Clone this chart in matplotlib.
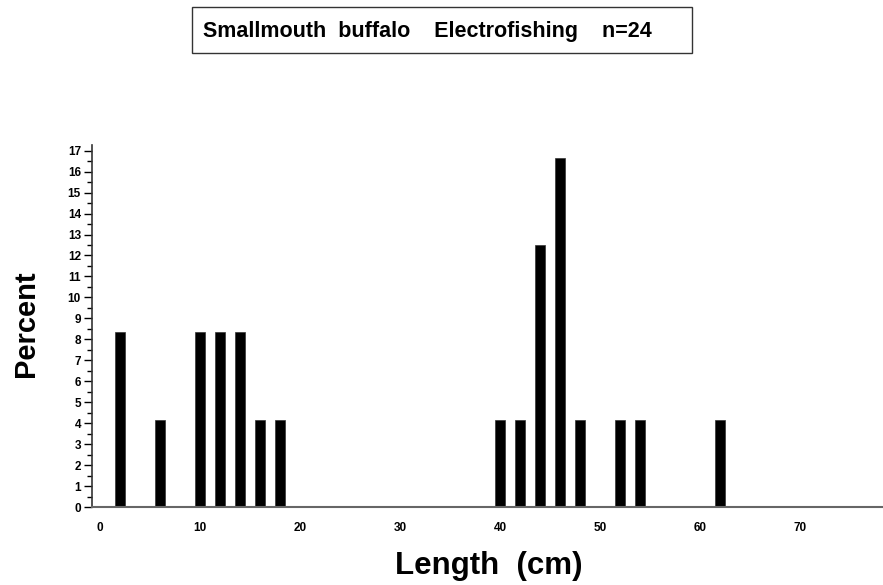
import matplotlib.pyplot as plt
from matplotlib.patches import Rectangle
from matplotlib.ticker import MultipleLocator

# length class midpoints (cm) and percent of fish
lengths = [2, 6, 10, 12, 14, 16, 18, 40, 42, 44, 46, 48, 52, 54, 62]
percent = [8.33, 4.17, 8.33, 8.33, 8.33, 4.17, 4.17,
           4.17, 4.17, 12.5, 16.67, 4.17, 4.17, 4.17, 4.17]
xticks = [0, 10, 20, 30, 40, 50, 60, 70]
yticks = list(range(0, 18))
title = "Smallmouth  buffalo    Electrofishing    n=24"

plt.rcParams['font.family'] = ['Liberation Sans', 'DejaVu Sans']

fig = plt.figure(figsize=(8.83, 5.85), dpi=100)
W, H = 883, 585
ax = fig.add_axes([92 / W, 1 - 507 / H, 791 / W, (507 - 145) / H])

ax.bar(lengths, percent, width=1.05, color='black', edgecolor='#333333', linewidth=0.5)

ax.set_xlim(-0.8, 78.3)
ax.set_ylim(0, 17.27)
ax.set_xticks(xticks)
ax.set_yticks(yticks)
ax.yaxis.set_minor_locator(MultipleLocator(0.5))
ax.tick_params(axis='x', length=0, pad=11, labelsize=8.5)
ax.tick_params(axis='y', which='major', length=6, width=1, labelsize=8.5, pad=2)
ax.tick_params(axis='y', which='minor', length=3.5, width=1)
for lab in ax.get_xticklabels() + ax.get_yticklabels():
    lab.set_fontweight('bold')

ax.spines['top'].set_visible(False)
ax.spines['right'].set_visible(False)
ax.spines['left'].set_color('#333333')
ax.spines['bottom'].set_color('#666666')
ax.spines['left'].set_linewidth(1.2)
ax.spines['bottom'].set_linewidth(1.5)

fig.text(26 / W, 1 - 324 / H, 'Percent', rotation=90, fontsize=21, fontweight='bold',
         ha='center', va='center')
fig.text(489 / W, 1 - 566 / H, 'Length  (cm)', fontsize=22.5, fontweight='bold',
         ha='center', va='center')

# title box
fig.patches.append(Rectangle((192 / W, 1 - 53 / H), 500 / W, 46 / H, transform=fig.transFigure,
                             fill=False, edgecolor='#333333', linewidth=1))
fig.text(203 / W, 1 - 31 / H, title, fontsize=15.5, fontweight='bold', ha='left', va='center')

fig.savefig('out.png', dpi=100)
